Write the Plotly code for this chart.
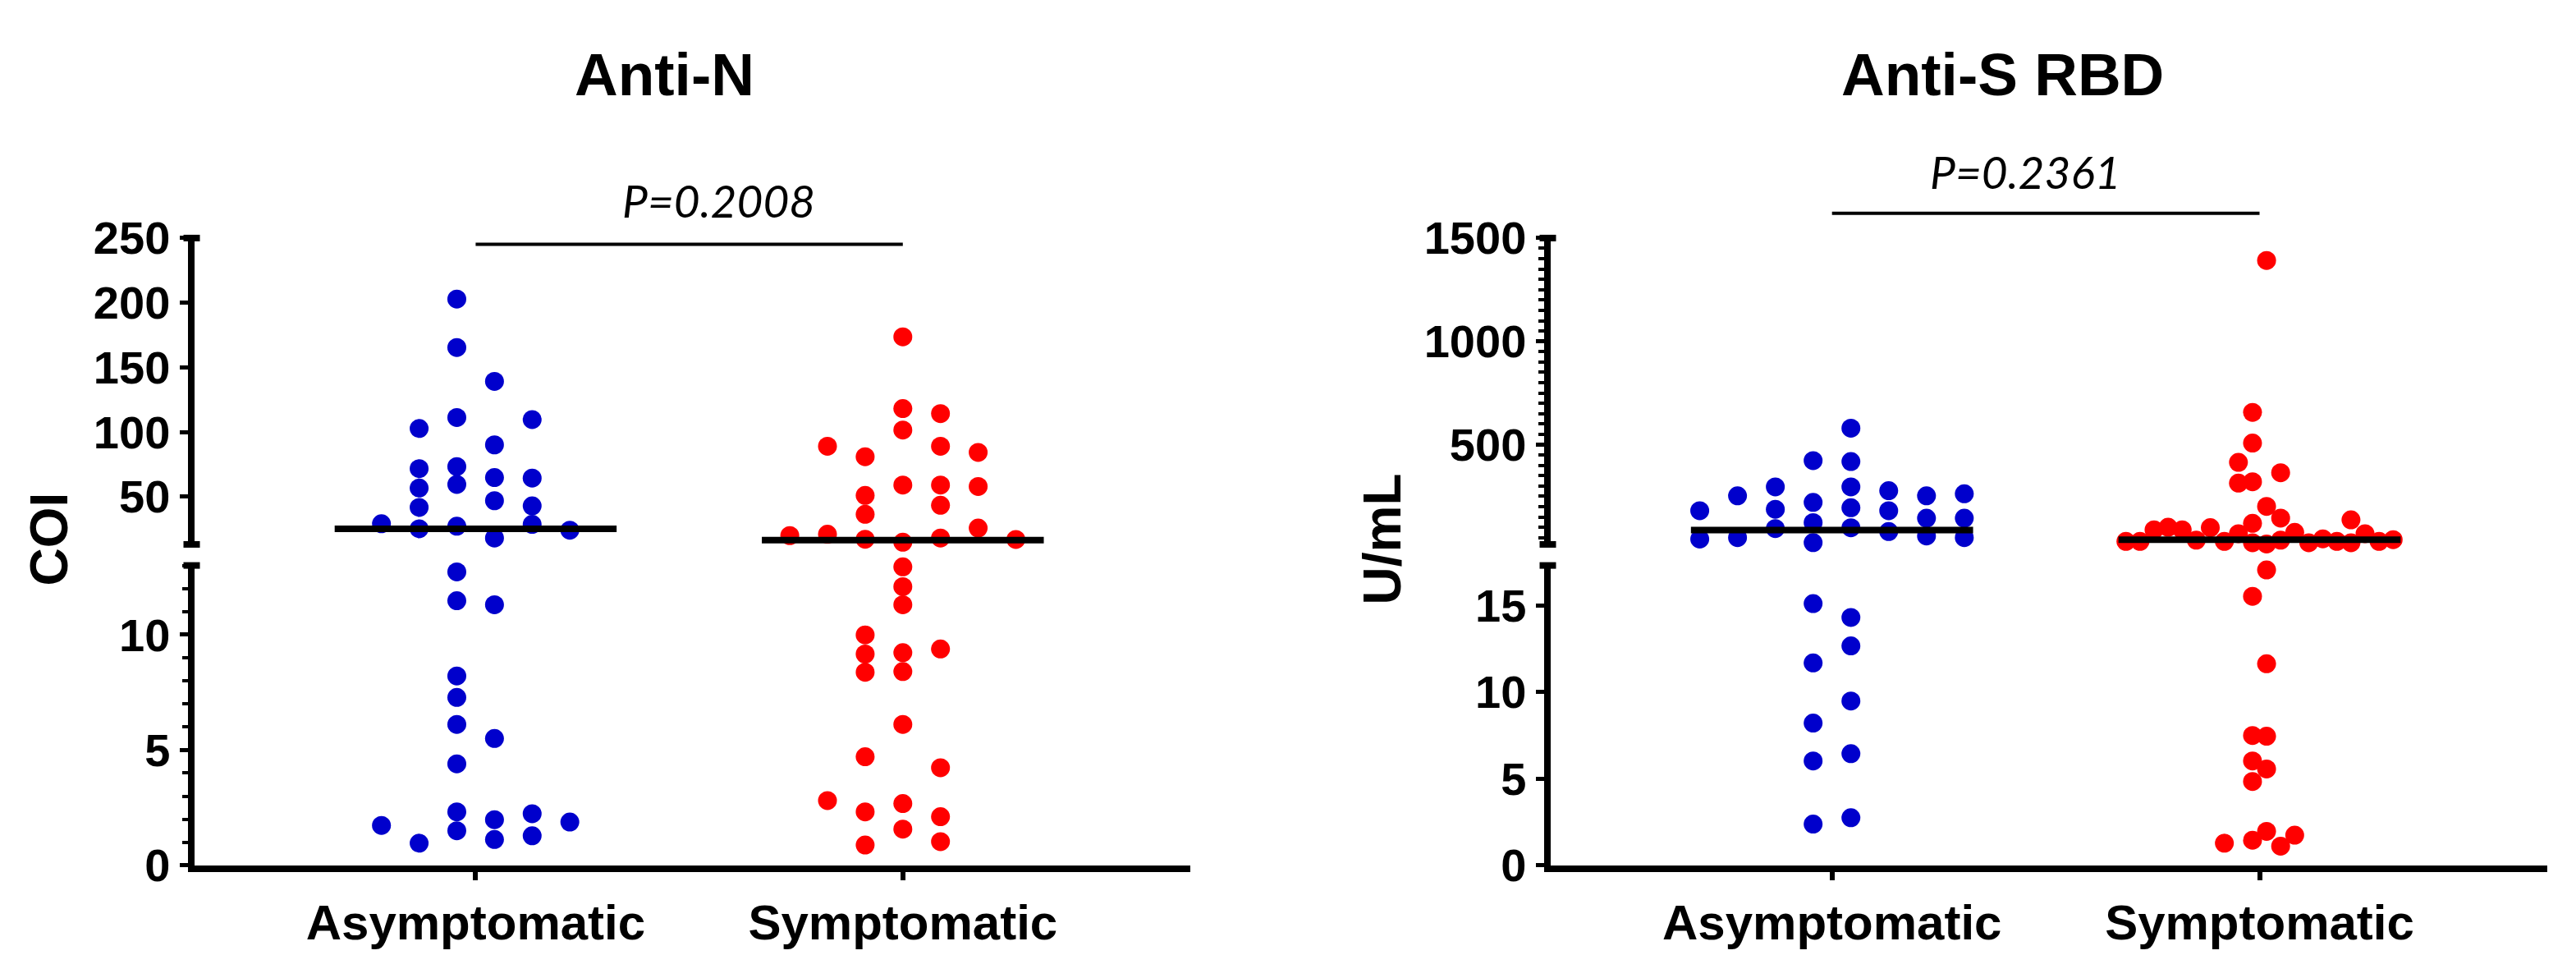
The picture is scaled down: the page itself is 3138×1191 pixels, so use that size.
import plotly.graph_objects as go

# ---- data ----
categories = ["Asymptomatic", "Symptomatic"]

# Anti-N (COI): values and beeswarm lane of each dot
n_asym = [202.8, 165.3, 139.1, 111.2, 109.6, 102.7, 90.0, 71.6, 73.2, 64.7, 64.3,
          56.6, 59.4, 46.8, 41.6, 42.8, 29.0, 25.1, 27.1, 17.9, 28.5, 24.0,
          12.72, 11.47, 11.30, 8.21, 7.28, 6.11, 5.50, 4.40, 2.32, 1.98, 2.24,
          1.88, 1.73, 0.96, 1.50, 1.12, 1.28]
n_asym_lane = [-0.5, -0.5, 0.5, -0.5, 1.5, -1.5, 0.5, -1.5, -0.5, 0.5, 1.5,
               -1.5, -0.5, 0.5, -1.5, 1.5, -2.5, -1.5, -0.5, 0.5, 1.5, 2.5,
               -0.5, -0.5, 0.5, -0.5, -0.5, -0.5, 0.5, -0.5, -0.5, 0.5, 1.5,
               2.5, -2.5, -1.5, -0.5, 0.5, 1.5]
n_sym = [173.6, 118.1, 114.2, 101.5, 88.9, 88.9, 84.2, 80.8, 58.9, 58.9, 57.8,
         50.9, 43.3, 36.3, 25.6, 19.8, 20.9, 17.0, 14.7, 17.9, 16.8,
         12.94, 12.08, 11.30, 9.99, 9.16, 8.37, 9.22, 8.40, 9.38, 6.11, 4.71,
         4.23, 2.81, 2.32, 2.68, 2.11, 1.57, 0.88, 1.03]
n_sym_lane = [0, 0, 1, 0, -2, 1, 2, -1, 0, 1, 2,
              -1, 1, -1, 2, -3, -2, -1, 0, 1, 3,
              0, 0, 0, -1, -1, -1, 0, 0, 1, 0, -1,
              1, -2, -1, 0, 1, 0, -1, 1]
n_median = [25.1, 16.3]

# Anti-S RBD (U/mL)
s_asym = [579.7, 418.2, 295.5, 194.6, 97.9, 422.7, 220.6, 122.7, 26.0,
          295.5, 187.4, 93.7, 252.2, 50.4, 180.3, 43.3, 277.0, 180.3, 79.4,
          252.2, 144.1, 58.0, 262.3, 144.1, 50.4,
          15.10, 11.68, 8.21, 6.02, 2.38, 14.30, 12.66, 9.48, 6.44, 2.75]
s_asym_lane = [0.5, 0.5, 0.5, 0.5, 0.5, -0.5, -0.5, -0.5, -0.5,
               -1.5, -1.5, -1.5, -2.5, -2.5, -3.5, -3.5, 1.5, 1.5, 1.5,
               2.5, 2.5, 2.5, 3.5, 3.5, 3.5,
               -0.5, -0.5, -0.5, -0.5, -0.5, 0.5, 0.5, 0.5, 0.5, 0.5]
s_sym = [31.6, 31.6, 88.1, 100.5, 88.1, 38.0, 98.2, 31.6, 69.2, 119.3, 25.2,
         19.2, 38.0, 75.6, 25.2, 44.0, 31.6, 25.2, 135.9, 69.2, 31.6, 40.3,
         414.4, 313.9, 656.1, 507.8, 320.3, 1391.6, 201.0, 364.0, 144.5,
         17.04, 15.52, 11.63, 7.49, 7.45, 6.02, 5.56, 4.84, 1.96, 1.45, 1.74,
         1.28, 1.11]
s_sym_lane = [-9.5, -8.5, -7.5, -6.5, -5.5, -4.5, -3.5, -2.5, -1.5, -0.5, -0.5,
              0.5, 1.5, 2.5, 3.5, 4.5, 5.5, 6.5, 6.5, 7.5, 8.5, 9.5,
              -1.5, -1.5, -0.5, -0.5, -0.5, 0.5, 0.5, 1.5, 1.5,
              0.5, -0.5, 0.5, -0.5, 0.5, -0.5, 0.5, -0.5, 0.5, -0.5, 2.5,
              -2.5, 1.5]
s_median = [86.6, 40.3]

n_low_ticks = [0, 5, 10]
n_high_ticks = [50, 100, 150, 200, 250]
s_low_ticks = [0, 5, 10, 15]
s_high_ticks = [500, 1000, 1500]
n_break, n_top = 13, 250
s_break, s_top = 17.3, 1500
p_values = ["P=0.2008", "P=0.2361"]
titles = ["Anti-N", "Anti-S RBD"]
y_titles = ["COI", "U/mL"]

# ---- layout constants (pixels of the 3138x1191 page) ----
W, H = 3138, 1191
BLUE, RED = "#0000CC", "#FF0000"
FONT = "Liberation Sans, Arial, sans-serif"
DOT = 23
MED_HALF = 0.33


def px(x):
    return x / W


def py(y):
    return 1 - y / H


UPPER = [py(658.8), py(264.9)]
LOWER = [py(1071.5), py(685.9)]
XRANGE = [-0.659, 1.673]

fig = go.Figure()


def add_group(xa, ylow, yhigh, cat, vals, lanes, spacing, brk, color):
    lo_x, lo_y, hi_x, hi_y = [], [], [], []
    for v, ln in zip(vals, lanes):
        if v > brk:
            hi_x.append(cat + ln * spacing)
            hi_y.append(v)
        else:
            lo_x.append(cat + ln * spacing)
            lo_y.append(v)
    for xs, ys, ya in ((lo_x, lo_y, ylow), (hi_x, hi_y, yhigh)):
        fig.add_trace(go.Scatter(
            x=xs, y=ys, mode="markers", xaxis=xa, yaxis=ya,
            marker=dict(size=DOT, color=color, line=dict(width=0)),
            cliponaxis=False, showlegend=False, hoverinfo="y"))


def add_medians(xa, ylow, yhigh, meds, brk):
    for cat, m in enumerate(meds):
        fig.add_trace(go.Scatter(
            x=[cat - MED_HALF, cat + MED_HALF], y=[m, m], mode="lines",
            xaxis=xa, yaxis=yhigh if m > brk else ylow,
            line=dict(color="black", width=8),
            cliponaxis=False, showlegend=False, hoverinfo="skip"))


# Anti-N panel
add_group("x", "y", "y2", 0, n_asym, n_asym_lane, 0.0882, n_break, BLUE)
add_group("x", "y", "y2", 1, n_sym, n_sym_lane, 0.0882, n_break, RED)
add_medians("x", "y", "y2", n_median, n_break)

# Anti-S RBD panel
add_group("x2", "y3", "y4", 0, s_asym, s_asym_lane, 0.0884, s_break, BLUE)
add_group("x2", "y3", "y4", 1, s_sym, s_sym_lane, 0.0329, s_break, RED)
add_medians("x2", "y3", "y4", s_median, s_break)

tick_font = dict(family=FONT, size=56, color="black", weight="bold")
cat_font = dict(family=FONT, size=60, color="black", weight="bold")


def xaxis(domain, anchor):
    return dict(domain=domain, range=XRANGE, anchor=anchor,
                tickmode="array", tickvals=[0, 1], ticktext=categories,
                showline=True, linewidth=8, linecolor="black",
                ticks="outside", ticklen=10, tickwidth=6, tickcolor="black",
                tickfont=cat_font, showgrid=False, zeroline=False,
                fixedrange=True)


def yaxis(domain, anchor, rng, ticks, minor=None):
    d = dict(domain=domain, range=rng, anchor=anchor,
             tickmode="array", tickvals=ticks, ticktext=[str(t) for t in ticks],
             showline=True, linewidth=8, linecolor="black",
             ticks="outside", ticklen=10, tickwidth=5, tickcolor="black",
             tickfont=tick_font, showgrid=False, zeroline=False,
             fixedrange=True)
    if minor:
        d["minor"] = dict(dtick=minor, tick0=0, ticks="outside", ticklen=7,
                          tickwidth=4, tickcolor="black", showgrid=False)
    return d


XL = [px(228.5), px(1442)]
XR = [px(1880.5), px(3095)]

fig.update_layout(
    width=W, height=H,
    margin=dict(l=0, r=0, t=0, b=0),
    paper_bgcolor="white", plot_bgcolor="white",
    showlegend=False,
    xaxis=xaxis(XL, "y"),
    xaxis2=xaxis(XR, "y3"),
    yaxis=yaxis(LOWER, "x", [0, n_break], n_low_ticks, minor=1),
    yaxis2=yaxis(UPPER, "x", [n_break, n_top], n_high_ticks),
    yaxis3=yaxis(LOWER, "x2", [0, s_break], s_low_ticks),
    yaxis4=yaxis(UPPER, "x2", [s_break, s_top], s_high_ticks, minor=50),
)

# caps at the ends of the broken axis segments
shapes = []
for axis_x in (224.5, 1876.5):
    for yref, yv in (("y2 domain", 0), ("y2 domain", 1), ("y domain", 1)):
        if axis_x > 1000:
            yref = yref.replace("y2", "y4").replace("y ", "y3 ")
        shapes.append(dict(type="line", xref="paper", yref=yref,
                           x0=px(axis_x - 9), x1=px(axis_x + 11), y0=yv, y1=yv,
                           line=dict(color="black", width=8)))

# significance brackets between the two groups
for xa, ybr in (("x", 273), ("x2", 233)):
    shapes.append(dict(type="line", xref=xa, yref="paper", x0=0, x1=1,
                       y0=py(ybr), y1=py(ybr),
                       line=dict(color="black", width=4)))
fig.update_layout(shapes=shapes)

annotations = []
for txt, xc in zip(titles, (801, 2431)):
    annotations.append(dict(text=txt, x=px(xc), y=py(54), xref="paper", yref="paper",
                            xanchor="center", yanchor="middle", showarrow=False,
                            font=dict(family=FONT, size=73, color="black", weight="bold")))
for txt, xc, yc in zip(p_values, (867, 2459), (216, 180)):
    annotations.append(dict(text=txt, x=px(xc), y=py(yc), xref="paper", yref="paper",
                            xanchor="center", yanchor="middle", showarrow=False,
                            font=dict(family="Lato, Open Sans, sans-serif", size=55,
                                      color="black", style="italic")))
for txt, xc in zip(y_titles, (52, 1676)):
    annotations.append(dict(text=txt, x=px(xc), y=py(652), xref="paper", yref="paper",
                            xanchor="center", yanchor="middle", showarrow=False,
                            textangle=-90,
                            font=dict(family=FONT, size=64, color="black", weight="bold")))
fig.update_layout(annotations=annotations)

fig.write_html("out.html")
